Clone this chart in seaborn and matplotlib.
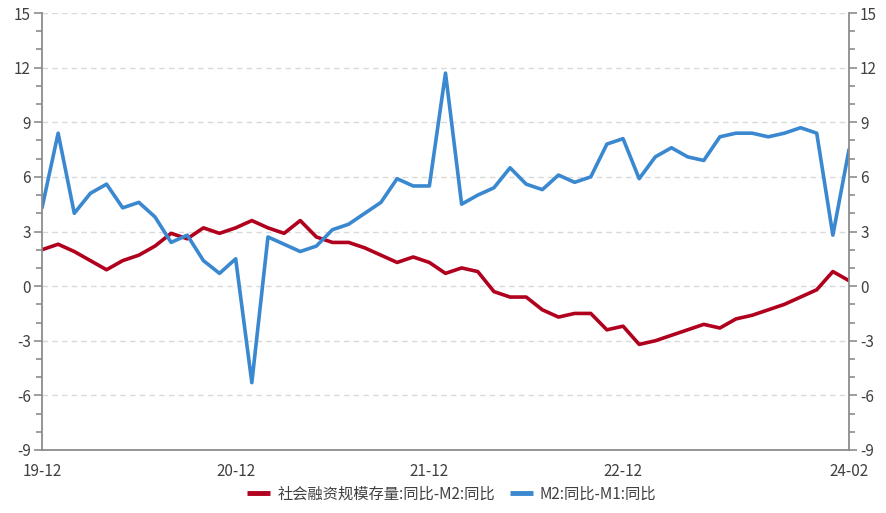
import pandas as pd
import seaborn as sns
import matplotlib.pyplot as plt
from matplotlib.ticker import MultipleLocator, FixedLocator

# monthly, 2019-12 .. 2024-02
months = pd.period_range('2019-12', '2024-02', freq='M')

tsf_minus_m2 = [2.0, 2.3, 1.9, 1.4, 0.9, 1.4, 1.7, 2.2, 2.9, 2.6, 3.2, 2.9,
                3.2, 3.6, 3.2, 2.9, 3.6, 2.7, 2.4, 2.4, 2.1, 1.7, 1.3, 1.6,
                1.3, 0.7, 1.0, 0.8, -0.3, -0.6, -0.6, -1.3, -1.7, -1.5, -1.5, -2.4,
                -2.2, -3.2, -3.0, -2.7, -2.4, -2.1, -2.3, -1.8, -1.6, -1.3, -1.0, -0.6,
                -0.2, 0.8, 0.3]
m2_minus_m1 = [4.3, 8.4, 4.0, 5.1, 5.6, 4.3, 4.6, 3.8, 2.4, 2.8, 1.4, 0.7,
               1.5, -5.3, 2.7, 2.3, 1.9, 2.2, 3.1, 3.4, 4.0, 4.6, 5.9, 5.5,
               5.5, 11.7, 4.5, 5.0, 5.4, 6.5, 5.6, 5.3, 6.1, 5.7, 6.0, 7.8,
               8.1, 5.9, 7.1, 7.6, 7.1, 6.9, 8.2, 8.4, 8.4, 8.2, 8.4, 8.7,
               8.4, 2.8, 7.5]

series_names = ['社会融资规模存量:同比-M2:同比', 'M2:同比-M1:同比']
colors = ['#B0001E', '#3A88CF']
tick_labels = {0: '19-12', 12: '20-12', 24: '21-12', 36: '22-12', 50: '24-02'}

df = pd.DataFrame({
    'idx': list(range(len(months))) * 2,
    'value': tsf_minus_m2 + m2_minus_m1,
    'series': [series_names[0]] * len(months) + [series_names[1]] * len(months),
})

sns.set_style('white')
plt.rcParams['font.family'] = ['Noto Sans CJK SC', 'DejaVu Sans']
plt.rcParams['axes.unicode_minus'] = False

text_c = '#404040'
axis_c = '#8C8C8C'

fig = plt.figure(figsize=(8.86, 5.13), dpi=100)
ax = fig.add_axes([42 / 886, 1 - 450 / 513, (849 - 42) / 886, (450 - 13) / 513])

sns.lineplot(data=df, x='idx', y='value', hue='series', palette=colors,
             linewidth=2.6, ax=ax, legend=False)

ax.set_xlim(0, len(months) - 1)
ax.set_ylim(-9, 15)
ax.yaxis.set_major_locator(MultipleLocator(3))
ax.yaxis.set_minor_locator(MultipleLocator(1))
ax.xaxis.set_major_locator(FixedLocator(list(tick_labels.keys())))
ax.set_xticklabels(list(tick_labels.values()))
ax.xaxis.set_minor_locator(FixedLocator(list(range(0, len(months), 3))))
ax.set_xlabel('')
ax.set_ylabel('')

ax.grid(axis='y', which='major', color='#D9D9D9', linestyle=(0, (4, 3)), linewidth=1)
ax.grid(axis='x', visible=False)

for s in ['top', 'right']:
    ax.spines[s].set_visible(False)
for s in ['left', 'bottom']:
    ax.spines[s].set_color(axis_c)
    ax.spines[s].set_linewidth(1.3)

ax.tick_params(axis='both', which='both', direction='out', color=axis_c, width=1.2,
               labelsize=11, labelcolor=text_c, pad=2)
ax.tick_params(axis='y', which='major', length=6)
ax.tick_params(axis='y', which='minor', length=4)
ax.tick_params(axis='x', which='major', length=7)
ax.tick_params(axis='x', which='minor', length=5)

ax2 = ax.twinx()
ax2.set_ylim(-9, 15)
ax2.yaxis.set_major_locator(MultipleLocator(3))
ax2.yaxis.set_minor_locator(MultipleLocator(1))
for s in ['top', 'left', 'bottom']:
    ax2.spines[s].set_visible(False)
ax2.spines['right'].set_color(axis_c)
ax2.spines['right'].set_linewidth(1.3)
ax2.tick_params(axis='y', which='both', direction='out', color=axis_c, width=1.2,
                labelsize=11, labelcolor=text_c, pad=2)
ax2.tick_params(axis='y', which='major', length=6)
ax2.tick_params(axis='y', which='minor', length=4)

handles = [plt.Line2D([], [], color=c, linewidth=3.5, solid_capstyle='butt') for c in colors]
fig.legend(handles, series_names, loc='center', bbox_to_anchor=(0.51, 1 - 494 / 513),
           ncol=2, frameon=False, fontsize=11, labelcolor=text_c,
           handlelength=1.5, handletextpad=0.45, columnspacing=1.0)

fig.savefig('out.png', dpi=100)
